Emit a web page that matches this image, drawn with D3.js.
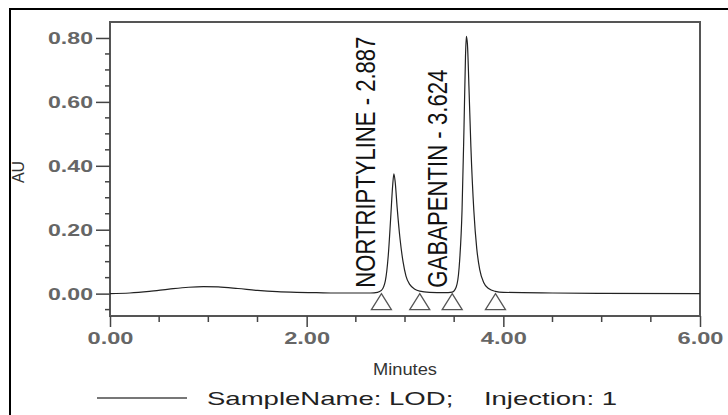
<!DOCTYPE html>
<html>
<head>
<meta charset="utf-8">
<script src="https://cdn.jsdelivr.net/npm/d3@7"></script>
<style>
  body { margin: 0; background: #fff; }
  svg text { font-family: "Liberation Sans", Arial, sans-serif; }
</style>
</head>
<body>
<svg id="chart" width="728" height="415"></svg>
<script>
// chromatogram trace (minutes, AU)
var times = [0.00, 0.20, 0.40, 0.60, 0.80, 0.95, 1.10, 1.30, 1.50, 1.70, 1.90, 2.10, 2.30, 2.50, 2.65,
  2.72, 2.76, 2.80, 2.83, 2.855, 2.875, 2.887, 2.90, 2.92, 2.95, 2.98, 3.01, 3.05, 3.10, 3.15, 3.25,
  3.40, 3.48, 3.52, 3.55, 3.58, 3.60, 3.615, 3.624, 3.635, 3.65, 3.67, 3.70, 3.73, 3.76, 3.80, 3.85,
  3.92, 4.00, 4.50, 5.00, 6.00];
var au = [0.000, 0.002, 0.007, 0.014, 0.020, 0.022, 0.021, 0.016, 0.010, 0.006, 0.004, 0.003, 0.002, 0.002, 0.002,
  0.004, 0.010, 0.040, 0.120, 0.240, 0.340, 0.375, 0.350, 0.270, 0.170, 0.100, 0.055, 0.028, 0.014, 0.008, 0.004,
  0.003, 0.005, 0.020, 0.080, 0.260, 0.520, 0.740, 0.805, 0.780, 0.650, 0.460, 0.260, 0.140, 0.075, 0.035, 0.016,
  0.007, 0.004, 0.002, 0.001, 0.000];

var peakNames = ['NORTRIPTYLINE', 'GABAPENTIN'];
var peakTimes = [2.887, 3.624];
var markerTimes = [2.76, 3.15, 3.48, 3.92];

var xTicks = [0, 2, 4, 6];
var xMinor = [0.5, 1, 1.5, 2.5, 3, 3.5, 4.5, 5, 5.5];
var yTicks = [0, 0.2, 0.4, 0.6, 0.8];
var yMinor = [-0.05, 0.05, 0.10, 0.15, 0.25, 0.30, 0.35, 0.45, 0.50, 0.55, 0.65, 0.70, 0.75];

var svg = d3.select('#chart');
var plotL = 110, plotR = 700, plotT = 22, plotB = 316;
var x = d3.scaleLinear().domain([0, 6]).range([plotL, plotR]);
var y = d3.scaleLinear().domain([-0.07, 0.85]).range([plotB, plotT]);
var grey = '#444';

// outer frame
svg.append('path').attr('d', 'M10,415V9H728').attr('fill', 'none').attr('stroke', '#000').attr('stroke-width', 2);

// plot box
svg.append('rect').attr('x', plotL).attr('y', plotT).attr('width', plotR - plotL).attr('height', plotB - plotT)
  .attr('fill', 'none').attr('stroke', '#555').attr('stroke-width', 2);

// y axis
var yAxis = d3.axisLeft(y).tickValues(yTicks).tickSize(14).tickPadding(3).tickFormat(d3.format('.2f'));
var gy = svg.append('g').attr('transform', 'translate(' + plotL + ',0)').call(yAxis);
gy.select('.domain').remove();
gy.selectAll('line').attr('stroke', grey).attr('stroke-width', 1.5);
gy.selectAll('text').attr('fill', '#666').style('font-size', '17px').style('font-weight', 'bold')
  .attr('textLength', 45).attr('lengthAdjust', 'spacingAndGlyphs');
svg.append('g').selectAll('line').data(yMinor).join('line')
  .attr('x1', plotL - 5).attr('x2', plotL).attr('y1', d => y(d)).attr('y2', d => y(d))
  .attr('stroke', grey).attr('stroke-width', 1.5);

// x axis
var xAxis = d3.axisBottom(x).tickValues(xTicks).tickSize(11).tickPadding(5).tickFormat(d3.format('.2f'));
var gx = svg.append('g').attr('transform', 'translate(0,' + plotB + ')').call(xAxis);
gx.select('.domain').remove();
gx.selectAll('line').attr('stroke', grey).attr('stroke-width', 1.5);
gx.selectAll('text').attr('fill', '#666').style('font-size', '17px').style('font-weight', 'bold')
  .attr('textLength', 46).attr('lengthAdjust', 'spacingAndGlyphs');
svg.append('g').selectAll('line').data(xMinor).join('line')
  .attr('x1', d => x(d)).attr('x2', d => x(d)).attr('y1', plotB).attr('y2', plotB + 6)
  .attr('stroke', grey).attr('stroke-width', 1.5);

// axis titles
svg.append('text').attr('transform', 'translate(24,172) rotate(-90)').attr('text-anchor', 'middle')
  .style('font-size', '16px').attr('fill', '#333').text('AU');
svg.append('text').attr('x', 405).attr('y', 375).attr('text-anchor', 'middle')
  .style('font-size', '16px').attr('fill', '#333')
  .attr('textLength', 64).attr('lengthAdjust', 'spacingAndGlyphs').text('Minutes');

// trace
var pts = times.map((t, i) => [t, au[i]]);
var line = d3.line().x(d => x(d[0])).y(d => y(d[1])).curve(d3.curveMonotoneX);
svg.append('path').attr('d', line(pts))
  .attr('fill', 'none').attr('stroke', '#222').attr('stroke-width', 1.2);

// integration markers
svg.append('g').selectAll('path').data(markerTimes).join('path')
  .attr('d', d => {
    var cx = x(d), cy = y(0);
    return 'M' + cx + ',' + cy + 'L' + (cx + 10) + ',' + (cy + 16) + 'L' + (cx - 10) + ',' + (cy + 16) + 'Z';
  })
  .attr('fill', '#fff').attr('stroke', '#555').attr('stroke-width', 1.3);

// peak labels
var labLen = [251, 218];
svg.append('g').selectAll('text').data(peakNames).join('text')
  .attr('transform', (d, i) => 'translate(' + (x(peakTimes[i]) - 19) + ',' + (y(0) - 6) + ') rotate(-90)')
  .attr('textLength', (d, i) => labLen[i]).attr('lengthAdjust', 'spacingAndGlyphs')
  .style('font-size', '27px').attr('fill', '#111')
  .text((d, i) => d + ' - ' + peakTimes[i].toFixed(3));

// legend
svg.append('line').attr('x1', 97).attr('x2', 187).attr('y1', 398).attr('y2', 398)
  .attr('stroke', '#777').attr('stroke-width', 2);
svg.append('text').attr('x', 207).attr('y', 405).style('font-size', '19px').attr('fill', '#222')
  .attr('xml:space', 'preserve').style('white-space', 'pre')
  .attr('textLength', 410).attr('lengthAdjust', 'spacingAndGlyphs')
  .text('SampleName: LOD;    Injection: 1');
</script>
</body>
</html>
